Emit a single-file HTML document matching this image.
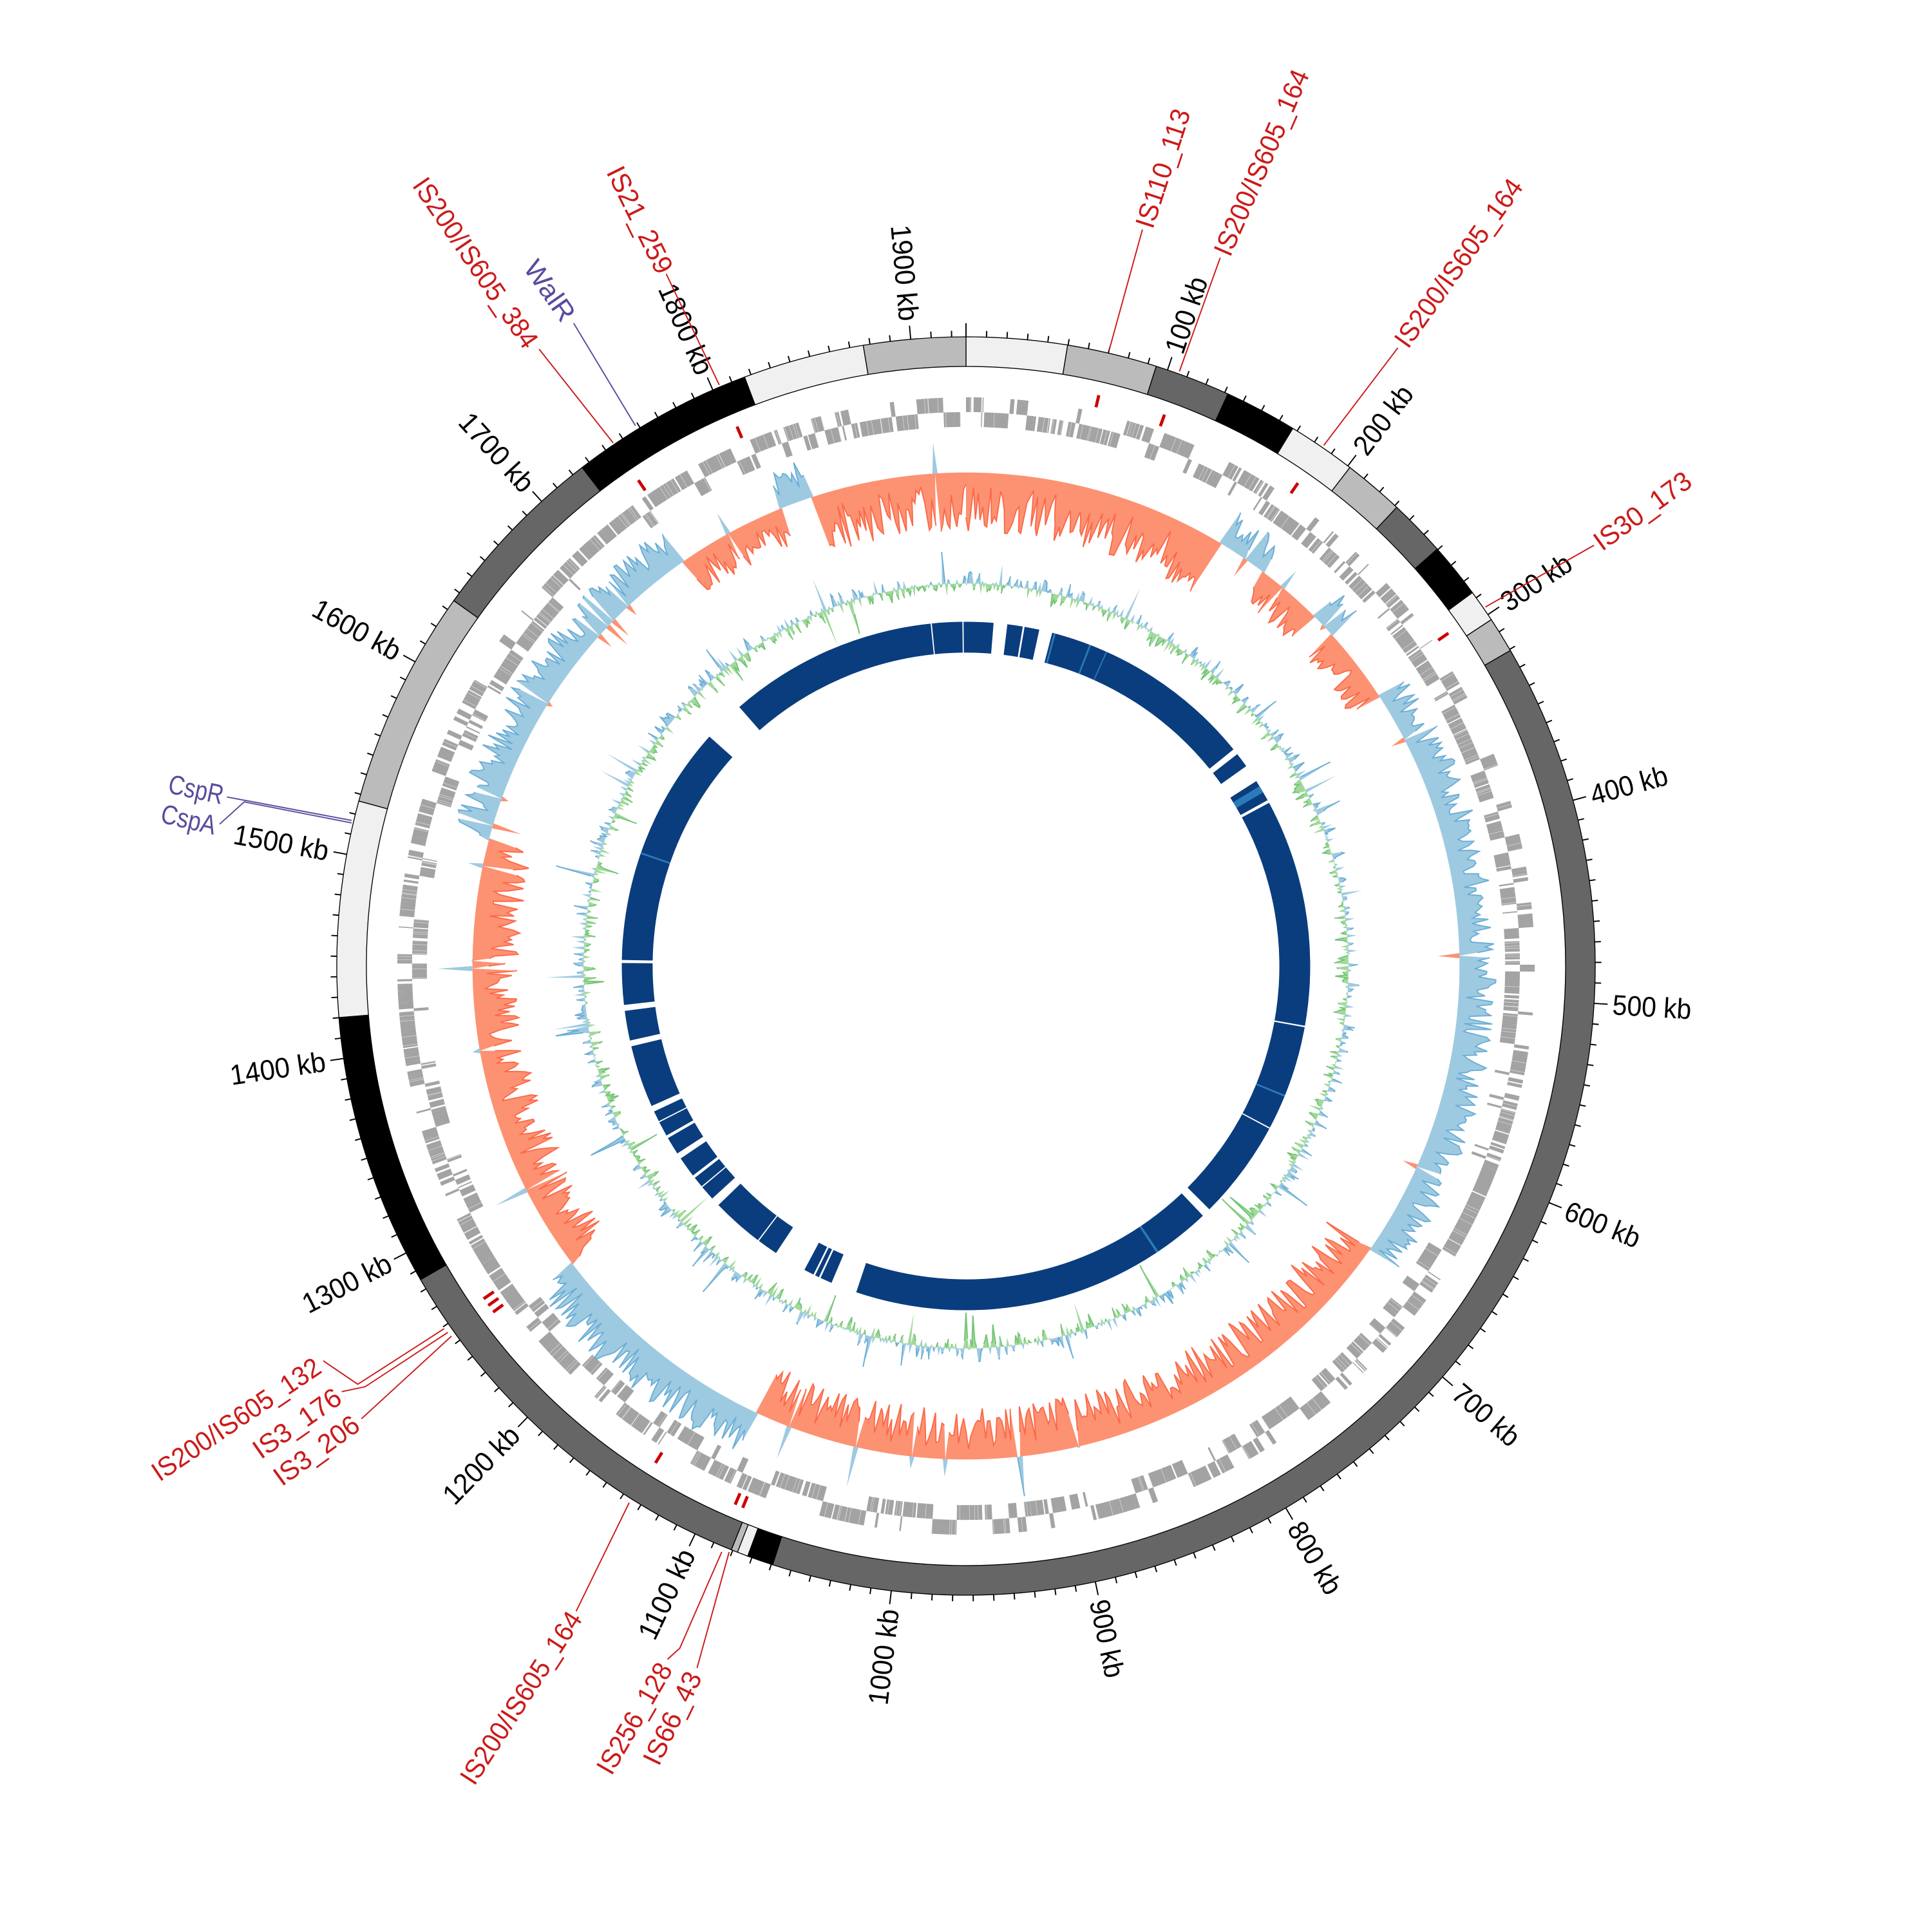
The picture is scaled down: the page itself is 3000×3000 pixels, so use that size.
<!DOCTYPE html>
<html><head><meta charset="utf-8"><style>html,body{margin:0;padding:0;background:#fff}svg{display:block}
.tl{font-family:"Liberation Sans Narrow","Liberation Sans",sans-serif;font-size:23px;fill:#000}
.is{font-family:"Liberation Sans Narrow","Liberation Sans",sans-serif;font-size:22px;fill:#cc1a1a}
.pu{font-family:"Liberation Sans Narrow","Liberation Sans",sans-serif;font-size:22px;fill:#5b4a9e}
</style></head><body>
<svg id="s" width="3000" height="3000" viewBox="0 0 1566 1566" xmlns="http://www.w3.org/2000/svg">
<rect width="1566" height="1566" fill="#fff"/>
<g id="g"></g>
<g id="ticklabels">
<text class="tl" dy="0.35em" textLength="64" lengthAdjust="spacingAndGlyphs" transform="rotate(18.68 783 783) translate(783,258) rotate(-90)">100 kb</text>
<text class="tl" dy="0.35em" textLength="64" lengthAdjust="spacingAndGlyphs" transform="rotate(37.36 783 783) translate(783,258) rotate(-90)">200 kb</text>
<text class="tl" dy="0.35em" textLength="64" lengthAdjust="spacingAndGlyphs" transform="rotate(56.05 783 783) translate(783,258) rotate(-90)">300 kb</text>
<text class="tl" dy="0.35em" textLength="64" lengthAdjust="spacingAndGlyphs" transform="rotate(74.73 783 783) translate(783,258) rotate(-90)">400 kb</text>
<text class="tl" dy="0.35em" textLength="64" lengthAdjust="spacingAndGlyphs" transform="rotate(93.41 783 783) translate(783,258) rotate(-90)">500 kb</text>
<text class="tl" dy="0.35em" textLength="64" lengthAdjust="spacingAndGlyphs" transform="rotate(112.09 783 783) translate(783,258) rotate(-90)">600 kb</text>
<text class="tl" dy="0.35em" textLength="64" lengthAdjust="spacingAndGlyphs" transform="rotate(130.78 783 783) translate(783,258) rotate(-90)">700 kb</text>
<text class="tl" dy="0.35em" textLength="64" lengthAdjust="spacingAndGlyphs" transform="rotate(149.46 783 783) translate(783,258) rotate(-90)">800 kb</text>
<text class="tl" dy="0.35em" textLength="64" lengthAdjust="spacingAndGlyphs" transform="rotate(168.14 783 783) translate(783,258) rotate(-90)">900 kb</text>
<text class="tl" dy="0.35em" textLength="78" lengthAdjust="spacingAndGlyphs" text-anchor="end" transform="rotate(186.82 783 783) translate(783,258) rotate(90)">1000 kb</text>
<text class="tl" dy="0.35em" textLength="78" lengthAdjust="spacingAndGlyphs" text-anchor="end" transform="rotate(205.5 783 783) translate(783,258) rotate(90)">1100 kb</text>
<text class="tl" dy="0.35em" textLength="78" lengthAdjust="spacingAndGlyphs" text-anchor="end" transform="rotate(224.19 783 783) translate(783,258) rotate(90)">1200 kb</text>
<text class="tl" dy="0.35em" textLength="78" lengthAdjust="spacingAndGlyphs" text-anchor="end" transform="rotate(242.87 783 783) translate(783,258) rotate(90)">1300 kb</text>
<text class="tl" dy="0.35em" textLength="78" lengthAdjust="spacingAndGlyphs" text-anchor="end" transform="rotate(261.55 783 783) translate(783,258) rotate(90)">1400 kb</text>
<text class="tl" dy="0.35em" textLength="78" lengthAdjust="spacingAndGlyphs" text-anchor="end" transform="rotate(280.23 783 783) translate(783,258) rotate(90)">1500 kb</text>
<text class="tl" dy="0.35em" textLength="78" lengthAdjust="spacingAndGlyphs" text-anchor="end" transform="rotate(298.92 783 783) translate(783,258) rotate(90)">1600 kb</text>
<text class="tl" dy="0.35em" textLength="78" lengthAdjust="spacingAndGlyphs" text-anchor="end" transform="rotate(317.6 783 783) translate(783,258) rotate(90)">1700 kb</text>
<text class="tl" dy="0.35em" textLength="78" lengthAdjust="spacingAndGlyphs" text-anchor="end" transform="rotate(336.28 783 783) translate(783,258) rotate(90)">1800 kb</text>
<text class="tl" dy="0.35em" textLength="78" lengthAdjust="spacingAndGlyphs" text-anchor="end" transform="rotate(354.96 783 783) translate(783,258) rotate(90)">1900 kb</text>
</g>
<g id="leaders" fill="none" stroke-width="1">
<polyline stroke="#cc1a1a" points="899,284 926,186"/>
<polyline stroke="#cc1a1a" points="956,301 989,209"/>
<polyline stroke="#cc1a1a" points="1073,361 1133,282"/>
<polyline stroke="#cc1a1a" points="1204,492 1292,442"/>
<polyline stroke="#cc1a1a" points="583,312 540,222"/>
<polyline stroke="#cc1a1a" points="497,359 437,283"/>
<polyline stroke="#5b4a9e" points="515,345 465,262"/>
<polyline stroke="#5b4a9e" points="184,646 285,665"/>
<polyline stroke="#5b4a9e" points="178,668 198,650 285,667"/>
<polyline stroke="#cc1a1a" points="262,1103 290,1122 360,1077"/>
<polyline stroke="#cc1a1a" points="277,1128 296,1124 363,1080"/>
<polyline stroke="#cc1a1a" points="293,1150 366,1083"/>
<polyline stroke="#cc1a1a" points="467,1306 510,1218"/>
<polyline stroke="#cc1a1a" points="541,1345 551,1336 585,1258"/>
<polyline stroke="#cc1a1a" points="565,1352 591,1258"/>
</g>
<g id="islabels">
<text class="is" x="927" y="184" dy="0.35em" textLength="100" lengthAdjust="spacingAndGlyphs" transform="rotate(-72 927 184)">IS110_113</text>
<text class="is" x="990" y="206" dy="0.35em" textLength="162" lengthAdjust="spacingAndGlyphs" transform="rotate(-66.5 990 206)">IS200/IS605_164</text>
<text class="is" x="1135" y="279" dy="0.35em" textLength="162" lengthAdjust="spacingAndGlyphs" transform="rotate(-54.5 1135 279)">IS200/IS605_164</text>
<text class="is" x="1294" y="441" dy="0.35em" textLength="92" lengthAdjust="spacingAndGlyphs" transform="rotate(-36 1294 441)">IS30_173</text>
<text class="is" x="498" y="136" dy="0.35em" textLength="94" lengthAdjust="spacingAndGlyphs" transform="rotate(63.7 498 136)">IS21_259</text>
<text class="is" x="340" y="146" dy="0.35em" textLength="162" lengthAdjust="spacingAndGlyphs" transform="rotate(55.7 340 146)">IS200/IS605_384</text>
<text class="pu" x="430" y="213" dy="0.35em" textLength="55" lengthAdjust="spacingAndGlyphs" transform="rotate(55 430 213)">WalR</text>
<text class="pu" x="137" y="635" dy="0.35em" textLength="45" lengthAdjust="spacingAndGlyphs" transform="rotate(12 137 635)">CspR</text>
<text class="pu" x="131" y="659" dy="0.35em" textLength="45" lengthAdjust="spacingAndGlyphs" transform="rotate(13 131 659)">CspA</text>
<text class="is" x="125" y="1195" dy="0.35em" textLength="160" lengthAdjust="spacingAndGlyphs" transform="rotate(-34 125 1195)">IS200/IS605_132</text>
<text class="is" x="207" y="1177" dy="0.35em" textLength="82" lengthAdjust="spacingAndGlyphs" transform="rotate(-35 207 1177)">IS3_176</text>
<text class="is" x="224" y="1199" dy="0.35em" textLength="80" lengthAdjust="spacingAndGlyphs" transform="rotate(-36 224 1199)">IS3_206</text>
<text class="is" x="378" y="1444" dy="0.35em" textLength="162" lengthAdjust="spacingAndGlyphs" transform="rotate(-57 378 1444)">IS200/IS605_164</text>
<text class="is" x="489" y="1436" dy="0.35em" textLength="100" lengthAdjust="spacingAndGlyphs" transform="rotate(-60 489 1436)">IS256_128</text>
<text class="is" x="527" y="1429" dy="0.35em" textLength="81" lengthAdjust="spacingAndGlyphs" transform="rotate(-64 527 1429)">IS66_43</text>
</g>
</svg>
<script>
(function(){
var C=783;
var seed=12345;function rnd(){seed|=0;seed=seed+0x6D2B79F5|0;var t=Math.imul(seed^seed>>>15,1|seed);t=t+Math.imul(t^t>>>7,61|t)^t;return((t^t>>>14)>>>0)/4294967296;}
function P(r,a){a=a*Math.PI/180;return [C+r*Math.sin(a),C-r*Math.cos(a)];}
function f(p){return p[0].toFixed(2)+','+p[1].toFixed(2);}
function ann(r1,r2,a1,a2){var l=(a2-a1)>180?1:0;return 'M'+f(P(r2,a1))+'A'+r2+','+r2+' 0 '+l+' 1 '+f(P(r2,a2))+'L'+f(P(r1,a2))+'A'+r1+','+r1+' 0 '+l+' 0 '+f(P(r1,a1))+'Z';}
function arc(r,a1,a2){return 'M'+f(P(r,a1))+'A'+r+','+r+' 0 0 1 '+f(P(r,a2));}
var h='';
var segs=[[0,9.3,'#f0f0f0'],[9.3,17.6,'#bbbbbb'],[17.6,24.6,'#666666'],[24.6,31.3,'#000'],[31.3,37.6,'#f0f0f0'],[37.6,43.2,'#bbbbbb'],[43.2,48.5,'#666666'],[48.5,53.6,'#000'],[53.6,56.6,'#f0f0f0'],[56.6,59.9,'#bbbbbb'],[59.9,197.9,'#666666'],[197.9,200.3,'#000'],[200.3,201.3,'#f0f0f0'],[201.3,201.9,'#bbbbbb'],[201.9,240.1,'#666666'],[240.1,265.3,'#000'],[265.3,285.2,'#f0f0f0'],[285.2,305.5,'#bbbbbb'],[305.5,322.4,'#666666'],[322.4,339.4,'#000'],[339.4,350.6,'#f0f0f0'],[350.6,360,'#bbbbbb']];
segs.forEach(function(s){h+='<path d="'+ann(486,510,s[0],s[1])+'" fill="'+s[2]+'" stroke="#000" stroke-width="0.7"/>';});
var td='';
for(var kb=0;kb<1927;kb+=10){var a=kb*360/1927;var maj=kb%100==0;td+='M'+f(P(510,a))+'L'+f(P(maj?521:515,a));}
h+='<path d="'+td+'" stroke="#000" stroke-width="1" fill="none"/>';
// genes
var gA='',gB='',gW='';var a=0,strand=0;
while(a<360){var len=0.08+rnd()*0.35;if(rnd()<0.08)len+=0.5*rnd();var gap=rnd()<0.85?0.0:rnd()*0.3;if(rnd()<0.015)gap+=0.8*rnd();
 if(rnd()<0.15)strand=1-strand;
 var e=Math.min(a+len,360);
 if(strand==0)gA+=arc(455,a,e);else gB+=arc(443,a,e);
 if(rnd()<0.35)gW+='M'+f(P(strand==0?449:437,e))+'L'+f(P(strand==0?461:449,e));
 a=e+gap;}
h+='<path d="'+gA+'" stroke="#a3a3a3" stroke-width="12" fill="none"/>';
h+='<path d="'+gB+'" stroke="#a3a3a3" stroke-width="12" fill="none"/>';
h+='<path d="'+gW+'" stroke="#d8d8d8" stroke-width="0.4" fill="none"/>';
[13.1,19.8,34.5,55.4,212,202.4,203.2,233.8,234.6,235.4,337,326].forEach(function(x){h+='<path d="M'+f(P(465,x))+'L'+f(P(475,x))+'" stroke="#cc0000" stroke-width="2.5"/>';});
var blue=[[31,37],[45,48],[57,125],[205,233],[285,325],[338,342]];
function sg(x){for(var i=0;i<blue.length;i++)if(x>=blue[i][0]&&x<blue[i][1])return -1;return 1;}
function amp(x){if(x<31||x>=342)return 48;if(x<125)return 30;if(x<205)return 42;if(x<285)return 38;return 32;}
var N=1200,vals=[];
for(var i=0;i<=N;i++){var x=i*360/N;var s=sg(x%360);var m=amp(x%360);var v=s*m*(0.2+0.8*Math.pow(rnd(),0.8));if(rnd()<0.025)v=-s*m*0.8*rnd();vals.push(v);}
function track(base,vals,dir,fill,stroke){var out=[],inn=[],ln='',pen=false;
 for(var i=0;i<=N;i++){var x=i*360/N;var v=dir>0?Math.max(vals[i],0):Math.min(vals[i],0);var p=P(base+v,x);out.push(f(p));
  if(v!=0){ln+=(pen?'L':'M')+f(p);pen=true;}else pen=false;}
 for(var i=N;i>=0;i--)inn.push(f(P(base,i*360/N)));
 return '<path d="M'+out.join('L')+'L'+inn.join('L')+'Z" fill="'+fill+'" stroke="none"/><path d="'+ln+'" fill="none" stroke="'+stroke+'" stroke-width="1"/>';}
var neg=vals.map(function(v){return -v;});
h+=track(400,neg,-1,'#fc9272','#fb6a4a');
h+=track(400,neg,1,'#9ecae1','#6baed6');
var gc=[];N=1600;
for(var i=0;i<=N;i++){var v=(rnd()+rnd()-1)*12;if(rnd()<0.03)v=(rnd()<0.5?-1:1)*(16+16*rnd());gc.push(v);}
h+=track(310,gc,1,'#9ecae1','#6baed6');
h+=track(310,gc,-1,'#a1d99b','#74c476');
var nb=[[-41.2,-5.9],[-5.7,-0.6],[-0.4,4.6],[6.9,9.5],[9.8,12.3],[14.5,51],[52,54.5],[57.5,61.2],[61.7,135],[136.5,198.6],[203,205],[205.3,206],[206.3,208],[213.5,226],[227.5,232],[232.5,236],[237,240],[240.5,245],[246,256.5],[257.5,262.5],[263.5,270.5],[271,311.8]];
nb.forEach(function(b){h+='<path d="'+ann(254,279,b[0],b[1])+'" fill="#0a3d7d"/>';});
[[14.8,0.3],[21,0.3],[24,0.2],[58.5,1.2],[112,0.3],[146,0.4],[289,0.3]].forEach(function(b){h+='<path d="'+ann(254,279,b[0],b[0]+b[1])+'" fill="#2b7bba"/>';});
[[100,0.25],[118,0.2],[230,0.2],[243,0.2],[217,0.2]].forEach(function(b){h+='<path d="'+ann(254,279,b[0],b[0]+b[1])+'" fill="#fff"/>';});
document.getElementById('g').innerHTML=h;
})();
</script>
</body></html>
